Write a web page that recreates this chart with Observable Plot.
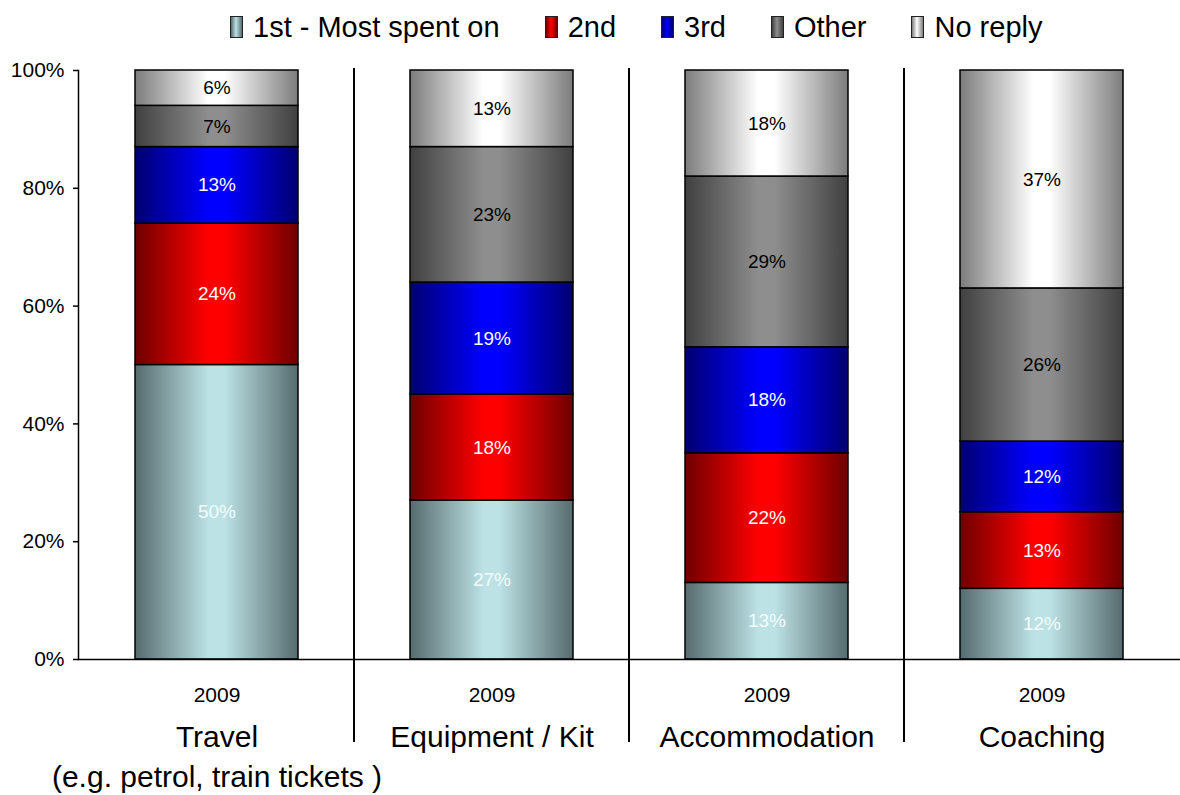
<!DOCTYPE html>
<html><head><meta charset="utf-8">
<script src="https://cdn.jsdelivr.net/npm/d3@7"></script>
<script src="https://cdn.jsdelivr.net/npm/@observablehq/plot@0.6"></script>
<style>
body{margin:0;background:#fff;font-family:"Liberation Sans",Arial,sans-serif;}
#legend{height:54px;display:flex;align-items:center;padding-left:230px;box-sizing:border-box;font-size:29px;color:#000;white-space:nowrap;}
.item{display:flex;align-items:center;margin-right:45px;}
.sw{width:11px;height:20px;border:1px solid #222;margin-right:10px;}
</style></head><body>
<div id="legend"></div><div id="chart"></div>
<script>
const categories = ["Travel", "Equipment / Kit", "Accommodation", "Coaching"];
const notes = ["(e.g. petrol, train tickets )", "", "", ""];
const years = ["2009", "2009", "2009", "2009"];
const series = ["1st - Most spent on", "2nd", "3rd", "Other", "No reply"];
const first = [50, 27, 13, 12];
const second = [24, 18, 22, 13];
const third = [13, 19, 18, 12];
const other = [7, 23, 29, 26];
const noReply = [6, 13, 18, 37];
const yTicks = [0, 20, 40, 60, 80, 100];
const darkColors = ["#566b6e", "#6e0000", "#000070", "#404040", "#7c7c7c"];
const lightColors = ["#bce2e5", "#ff0000", "#0000ff", "#8e8e8e", "#ffffff"];
const labelColors = ["#f4fbfb", "#ffffff", "#ffffff", "#000000", "#000000"];

const seriesValues = [first, second, third, other, noReply];
const rows = [];
categories.forEach((c, ci) => series.forEach((s, si) => rows.push({category: c, series: s, value: seriesValues[si][ci], si})));

// legend
const leg = document.getElementById("legend");
series.forEach((s, i) => {
  const it = document.createElement("div"); it.className = "item";
  const sw = document.createElement("div"); sw.className = "sw";
  sw.style.background = `linear-gradient(to right, ${darkColors[i]}, ${lightColors[i]} 45%, ${darkColors[i]})`;
  const tx = document.createElement("span"); tx.textContent = s;
  it.append(sw, tx); leg.append(it);
});

const font = "Liberation Sans, Arial, sans-serif";
const chart = Plot.plot({
  width: 1180, height: 741,
  marginLeft: 78, marginRight: 0, marginTop: 16, marginBottom: 136,
  style: {fontFamily: font, background: "#fff", color: "#000"},
  x: {domain: categories, padding: 0, axis: null},
  y: {domain: [0, 100], axis: null, label: null},
  color: {type: "ordinal", domain: series, range: series.map((s, i) => `url(#grad${i})`)},
  marks: [
    Plot.barY(rows, {x: "category", y: "value", fill: "series", order: series, stroke: "#000", strokeWidth: 1.5, insetLeft: 56, insetRight: 56}),
    Plot.text(rows, Plot.stackY({x: "category", y: "value", z: "series", order: series, text: d => d.value + "%", fill: d => labelColors[d.si], fontSize: 19})),
    Plot.axisY({ticks: yTicks, tickFormat: d => d + "%", tickSize: 5, tickPadding: 9, fontSize: 21, strokeWidth: 1.5, label: null}),
    Plot.frame({anchor: "left", stroke: "#000", strokeWidth: 1.5}),
    Plot.ruleY([0], {stroke: "#000", strokeWidth: 1.5}),
    Plot.text(categories, {x: d => d, frameAnchor: "bottom", dy: 42, text: (d, i) => years[i], fontSize: 21}),
    Plot.text(categories, {x: d => d, frameAnchor: "bottom", lineAnchor: "top", dy: 59, lineHeight: 1.33, text: (d, i) => d + (notes[i] ? "\n" + notes[i] : ""), fontSize: 30})
  ]
});

const svg = d3.select(chart);
const defs = svg.insert("defs", ":first-child");
series.forEach((s, i) => {
  const g = defs.append("linearGradient").attr("id", "grad" + i).attr("x1", 0).attr("x2", 1).attr("y1", 0).attr("y2", 0);
  g.append("stop").attr("offset", "0%").attr("stop-color", darkColors[i]);
  g.append("stop").attr("offset", "45%").attr("stop-color", lightColors[i]);
  g.append("stop").attr("offset", "55%").attr("stop-color", lightColors[i]);
  g.append("stop").attr("offset", "100%").attr("stop-color", darkColors[i]);
});
const xs = chart.scale("x"), ys = chart.scale("y");
categories.slice(1).forEach(c => {
  const x = xs.apply(c);
  svg.append("line").attr("x1", x).attr("x2", x).attr("y1", ys.apply(100) - 2).attr("y2", ys.apply(0) + 83)
    .attr("stroke", "#000").attr("stroke-width", 2);
});
document.getElementById("chart").append(chart);
</script>
</body></html>
